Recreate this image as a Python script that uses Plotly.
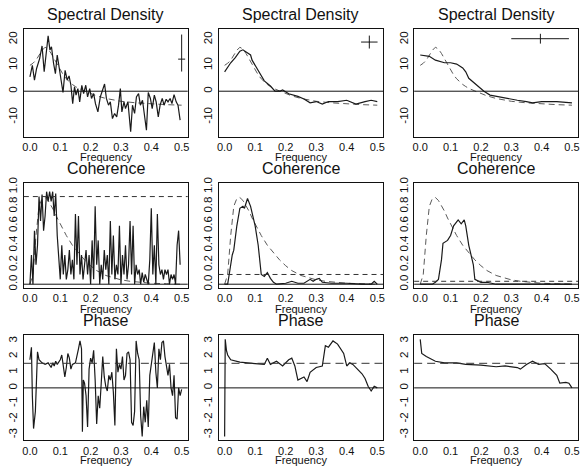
import math
import plotly.graph_objects as go

# ---------------- data ----------------
freq_ticks = [0.0, 0.1, 0.2, 0.3, 0.4, 0.5]
freq_tick_text = ["0.0", "0.1", "0.2", "0.3", "0.4", "0.5"]
sd_ticks = [-10, 0, 10, 20]
coh_ticks = [0.0, 0.2, 0.4, 0.6, 0.8, 1.0]
coh_tick_text = ["0.0", "0.2", "0.4", "0.6", "0.8", "1.0"]
ph_ticks = [-3, -2, -1, 0, 1, 2, 3]

# theoretical spectral density (dashed, same in all three panels)
sd_true_f = [0, 0.01, 0.02, 0.03, 0.04, 0.05, 0.06, 0.07, 0.08, 0.09, 0.10, 0.11, 0.12,
             0.13, 0.14, 0.15, 0.16, 0.18, 0.20, 0.22, 0.25, 0.28, 0.30, 0.35, 0.40, 0.45, 0.50]
sd_true = [10, 10.8, 12, 13.8, 15.8, 17, 16.3, 14.6, 12.4, 10.2, 8, 6.3, 4.8,
           3.6, 2.6, 1.8, 1.1, 0.1, -0.9, -1.8, -2.8, -3.5, -3.9, -4.5, -4.9, -5.2, -5.4]

# raw periodogram (panel 1)
sd_raw_f = [0.000, 0.008, 0.015, 0.022, 0.032, 0.040, 0.047, 0.054, 0.060, 0.066, 0.071,
            0.078, 0.084, 0.090, 0.096, 0.101, 0.109, 0.116, 0.123, 0.129, 0.135, 0.141,
            0.147, 0.152, 0.158, 0.164, 0.171, 0.177, 0.184, 0.190, 0.197, 0.203, 0.210,
            0.216, 0.224, 0.232, 0.239, 0.246, 0.252, 0.259, 0.265, 0.272, 0.279, 0.286,
            0.292, 0.298, 0.303, 0.310, 0.315, 0.323, 0.332, 0.338, 0.345, 0.351, 0.358,
            0.364, 0.371, 0.377, 0.384, 0.390, 0.397, 0.403, 0.410, 0.416, 0.423, 0.429,
            0.436, 0.442, 0.449, 0.455, 0.462, 0.468, 0.475, 0.482, 0.488, 0.495]
sd_raw = [5.5, 10, 4.3, 8.8, 12.6, 17.5, 7.5, 14, 21.4, 15.9, 17.2,
          10.7, 6.8, 14, 9.4, 5.5, -0.5, 8.1, 4.3, 5.9, 2.3, -4.8,
          1.7, -1.5, 1, -4.1, 2.3, -0.9, 2.3, -2.2, 1, -2.8, -0.9,
          -4.8, -8, -2.2, 0.4, 2.8, -2.8, -5.4, -4.1, -10.6, -8.6, -9.9,
          -5.4, 1, -8, -4.1, -6.7, -4.1, -15.7, -5.4, -8.6, -2.2, -0.9,
          -5.4, -3.5, -8, -15.1, -0.5, -2.8, -6.7, -1.5, -4.1, -9.9, -5.4,
          -2.8, -5.4, -3.1, -4.1, -2.8, -4.8, -1.3, -4.1, -5.4, -11.2]

# smoothed spectrum (panel 2)
sd_smooth_f = [0, 0.01, 0.02, 0.035, 0.045, 0.05, 0.06, 0.07, 0.075, 0.085, 0.09, 0.10,
               0.115, 0.13, 0.15, 0.165, 0.18, 0.19, 0.21, 0.24, 0.26, 0.28, 0.30, 0.32,
               0.34, 0.37, 0.40, 0.43, 0.46, 0.48, 0.50]
sd_smooth = [7.5, 9.5, 11, 13, 15, 15.5, 16, 15.2, 15, 14, 12, 10,
             7, 4, 2, 0, 0, 0.5, -1, -2, -3, -4.5, -4, -5,
             -4, -4, -3.5, -5, -4, -3.5, -4]

# heavily smoothed spectrum (panel 3)
sd_wide_f = [0, 0.03, 0.05, 0.08, 0.10, 0.12, 0.14, 0.15, 0.16, 0.18, 0.20, 0.21,
             0.23, 0.27, 0.32, 0.35, 0.37, 0.40, 0.45, 0.50]
sd_wide = [14, 13.5, 12, 11, 11, 10.5, 9, 7.5, 5, 3, 1, 0,
           -1.5, -2.5, -3.5, -4, -4.5, -4, -4, -4.5]

# bandwidth indicators
bw1 = dict(f=0.5, v=12.4, lo=4.8, hi=9.5)
bw2 = dict(f=0.474, v=19.0, dx=0.027, dy=2.5)
bw3 = dict(f=0.396, v=20.3, left=0.096, right=0.094)

# theoretical coherence (dashed, same in all three panels)
coh_true_f = [0, 0.01, 0.02, 0.03, 0.04, 0.05, 0.06, 0.07, 0.08, 0.09, 0.10, 0.12, 0.14,
              0.16, 0.18, 0.20, 0.22, 0.25, 0.28, 0.30, 0.33, 0.36, 0.40, 0.45, 0.50]
coh_true = [0, 0.1, 0.5, 0.8, 0.88, 0.89, 0.86, 0.81, 0.75, 0.68, 0.62, 0.5, 0.4,
            0.32, 0.25, 0.19, 0.14, 0.09, 0.06, 0.045, 0.03, 0.02, 0.01, 0.005, 0.0]
coh_threshold = [0.9, 0.1, 0.03]

coh_raw_f = [0.000, 0.005, 0.010, 0.015, 0.020, 0.025, 0.030, 0.035, 0.040, 0.045, 0.050,
             0.055, 0.060, 0.065, 0.070, 0.075, 0.080, 0.085, 0.090, 0.095, 0.100, 0.105,
             0.110, 0.115, 0.120, 0.125, 0.130, 0.135, 0.140, 0.145, 0.150, 0.155, 0.160,
             0.165, 0.170, 0.175, 0.180, 0.185, 0.190, 0.195, 0.200, 0.205, 0.210, 0.215,
             0.220, 0.225, 0.230, 0.235, 0.240, 0.245, 0.250, 0.255, 0.260, 0.265, 0.270,
             0.275, 0.280, 0.285, 0.290, 0.295, 0.300, 0.305, 0.310, 0.315, 0.320, 0.325,
             0.330, 0.335, 0.340, 0.345, 0.350, 0.355, 0.360, 0.365, 0.370, 0.375, 0.380,
             0.385, 0.390, 0.395, 0.400, 0.405, 0.410, 0.415, 0.420, 0.425, 0.430, 0.435,
             0.440, 0.445, 0.450, 0.455, 0.460, 0.465, 0.470, 0.475, 0.480, 0.485, 0.490,
             0.495]
coh_raw = [0.0, 0.3, 0.0, 0.55, 0.2, 0.4, 0.9, 0.65, 0.92, 0.55, 0.7,
           0.95, 0.85, 0.95, 0.85, 0.95, 0.7, 0.93, 0.5, 0.25, 0.05, 0.4,
           0.1, 0.3, 0.05, 0.15, 0.35, 0.1, 0.25, 0.05, 0.72, 0.2, 0.7,
           0.1, 0.3, 0.05, 0.2, 0.35, 0.1, 0.3, 0.0, 0.45, 0.05, 0.8,
           0.2, 0.45, 0.0, 0.2, 0.05, 0.35, 0.15, 0.3, 0.0, 0.65, 0.1,
           0.5, 0.05, 0.2, 0.1, 0.6, 0.0, 0.3, 0.1, 0.4, 0.05, 0.2,
           0.65, 0.1, 0.6, 0.0, 0.2, 0.1, 0.15, 0.0, 0.12, 0.02, 0.1,
           0.05, 0.0, 0.25, 0.78, 0.1, 0.4, 0.0, 0.72, 0.2, 0.1, 0.15,
           0.05, 0.15, 0.1, 0.15, 0.0, 0.1, 0.05, 0.1, 0.0, 0.4, 0.55,
           0.2]

coh_smooth_f = [0, 0.01, 0.015, 0.025, 0.03, 0.04, 0.05, 0.06, 0.065, 0.075, 0.085, 0.10,
                0.11, 0.12, 0.13, 0.14, 0.15, 0.16, 0.17, 0.20, 0.22, 0.24, 0.26, 0.28,
                0.29, 0.30, 0.31, 0.32, 0.35, 0.40, 0.45, 0.48, 0.49, 0.50]
coh_smooth = [0, 0.0, 0.1, 0.3, 0.35, 0.6, 0.78, 0.8, 0.78, 0.88, 0.8, 0.6,
              0.4, 0.1, 0.08, 0.12, 0.06, 0.02, 0.0, 0.01, 0.03, 0.01, 0.01, 0.05,
              0.03, 0.05, 0.06, 0.02, 0.01, 0.01, 0.0, 0.0, 0.03, 0.0]

coh_wide_f = [0, 0.04, 0.05, 0.06, 0.07, 0.075, 0.09, 0.10, 0.11, 0.125, 0.135, 0.145,
              0.15, 0.16, 0.175, 0.18, 0.20, 0.22, 0.25, 0.30, 0.40, 0.50]
coh_wide = [0, 0, 0.02, 0.05, 0.25, 0.42, 0.45, 0.5, 0.6, 0.66, 0.62, 0.66,
            0.6, 0.4, 0.2, 0.05, 0.02, 0.02, 0.0, 0.0, 0.0, 0.0]

# phase
phase_ref = math.pi / 2
ph_raw_f = [0.000, 0.005, 0.008, 0.012, 0.018, 0.022, 0.025, 0.030, 0.040, 0.050, 0.060,
            0.070, 0.075, 0.080, 0.085, 0.090, 0.100, 0.105, 0.110, 0.115, 0.120, 0.125,
            0.130, 0.135, 0.140, 0.150, 0.160, 0.165, 0.170, 0.173, 0.176, 0.180, 0.185,
            0.190, 0.195, 0.200, 0.205, 0.210, 0.215, 0.220, 0.225, 0.230, 0.235, 0.240,
            0.245, 0.250, 0.255, 0.260, 0.265, 0.270, 0.275, 0.280, 0.285, 0.290, 0.295,
            0.300, 0.305, 0.310, 0.315, 0.320, 0.325, 0.330, 0.335, 0.340, 0.345, 0.350,
            0.355, 0.360, 0.365, 0.370, 0.375, 0.380, 0.385, 0.390, 0.395, 0.400, 0.405,
            0.410, 0.415, 0.420, 0.425, 0.430, 0.435, 0.440, 0.445, 0.450, 0.455, 0.460,
            0.465, 0.470, 0.475, 0.480, 0.485, 0.490, 0.495, 0.500]
ph_raw = [1.8, 2.6, -0.5, -2.6, -1.5, 0.5, 2.3, 1.8, 1.6, 1.5, 1.6,
          1.3, 1.6, 1.4, 1.7, 1.5, 1.8, 2.1, 1.5, 0.7, 1.3, 2.2,
          1.9, 1.2, 1.5, 1.6, 2.5, 3.0, 2.5, -2.8, 0.5, 0.3, -0.5,
          -2.5, 1.2, 1.9, 1.6, 2.4, 0.5, -2.3, -0.5, -1.3, 0.3, 2.0,
          0.7, 0.1, -0.2, 0.8, 0.5, 1.0, -0.3, -2.4, 2.5, 1.0, 1.5,
          1.2, 2.0, 0.5, 0.8, 2.2, 2.3, 1.8, -2.2, -2.4, -1.5, 3.0,
          2.2, 1.8, -1.8, -3.1, -1.2, -2.2, -0.8, -2.5, 0.8, 1.6, 2.2,
          2.9, 1.0, 0.0, 2.5, 1.8, 2.9, 3.0, 2.0, 1.2, 0.8, 1.5,
          0.0, -0.5, 0.8, -1.9, -2.0, 0.0, -0.5, -0.1]

ph_smooth_f = [0.0, 0.002, 0.006, 0.01, 0.02, 0.05, 0.10, 0.13, 0.14, 0.15, 0.17, 0.19,
               0.21, 0.22, 0.23, 0.24, 0.26, 0.27, 0.28, 0.30, 0.32, 0.33, 0.34, 0.355,
               0.37, 0.38, 0.39, 0.40, 0.41, 0.42, 0.44, 0.45, 0.46, 0.47, 0.48, 0.49, 0.50]
ph_smooth = [-3.1, 3.1, 2.4, 2.1, 1.8, 1.65, 1.55, 1.5, 1.9, 1.5, 1.7, 1.4,
             1.8, 1.9, 1.4, 0.5, 0.7, 0.4, 1.0, 1.3, 1.4, 2.7, 2.6, 3.0,
             2.8, 2.5, 2.2, 1.4, 1.6, 1.5, 1.1, 0.9, 0.6, 0.1, -0.2, 0.1, 0.0]

ph_wide_f = [0.0, 0.005, 0.02, 0.05, 0.08, 0.12, 0.15, 0.20, 0.25, 0.28, 0.32, 0.33,
             0.35, 0.37, 0.39, 0.41, 0.43, 0.45, 0.46, 0.48, 0.49, 0.50]
ph_wide = [3.1, 2.2, 2.0, 1.7, 1.6, 1.6, 1.5, 1.45, 1.35, 1.4, 1.3, 1.2,
           1.5, 1.7, 1.5, 1.55, 1.2, 0.8, 0.3, 0.35, 0.3, 0.0]

# ---------------- figure ----------------
W, H = 584, 470
col_px = [(22, 187), (218, 384), (415, 580)]
row_px = [(23, 133), (180, 287), (335, 442)]
row_titles = ["Spectral Density", "Coherence", "Phase"]
title_y_px = [9, 165, 320]
xlab_y_px = [154, 308, 462]

SOLID = dict(color="#1a1a1a", width=1.2)
DASHED = dict(color="#5a5a5a", width=1.0, dash="6px,4px")
FONT = "Liberation Sans, Arial, Helvetica, sans-serif"
TICK_SIZE = 11.5
XTICK_SIZE = 11

fig = go.Figure()


def ax_id(r, c):
    return r * 3 + c + 1


def add(r, c, x, y, line, **kw):
    i = ax_id(r, c)
    fig.add_trace(go.Scatter(x=x, y=y, mode="lines", line=line,
                             xaxis="x" if i == 1 else f"x{i}",
                             yaxis="y" if i == 1 else f"y{i}",
                             showlegend=False, hoverinfo="skip", **kw))


# spectral density row
add(0, 0, sd_true_f, sd_true, DASHED)
add(0, 0, sd_raw_f, sd_raw, SOLID)
add(0, 1, sd_true_f, sd_true, DASHED)
add(0, 1, sd_smooth_f, sd_smooth, SOLID)
add(0, 2, sd_true_f, sd_true, DASHED)
add(0, 2, sd_wide_f, sd_wide, SOLID)

# bandwidth markers
fig.add_trace(go.Scatter(x=[bw1["f"]], y=[bw1["v"]], mode="markers",
                         marker=dict(symbol="line-ew", size=5, line=dict(color="#1a1a1a", width=1)),
                         error_y=dict(type="data", symmetric=False, array=[bw1["hi"]],
                                      arrayminus=[bw1["lo"]], width=0, color="#1a1a1a", thickness=1),
                         xaxis="x", yaxis="y", showlegend=False, hoverinfo="skip"))
fig.add_trace(go.Scatter(x=[bw2["f"]], y=[bw2["v"]], mode="markers",
                         marker=dict(size=1, color="#1a1a1a"),
                         error_y=dict(type="data", array=[bw2["dy"]], width=0, color="#1a1a1a", thickness=1),
                         error_x=dict(type="data", array=[bw2["dx"]], width=0, color="#1a1a1a", thickness=1),
                         xaxis="x2", yaxis="y2", showlegend=False, hoverinfo="skip"))
fig.add_trace(go.Scatter(x=[bw3["f"]], y=[bw3["v"]], mode="markers",
                         marker=dict(symbol="line-ns", size=7, line=dict(color="#1a1a1a", width=1)),
                         error_x=dict(type="data", symmetric=False, array=[bw3["right"]],
                                      arrayminus=[bw3["left"]], width=0, color="#1a1a1a", thickness=1),
                         xaxis="x3", yaxis="y3", showlegend=False, hoverinfo="skip"))

# coherence row
add(1, 0, coh_true_f, coh_true, DASHED)
add(1, 0, coh_raw_f, coh_raw, SOLID)
add(1, 1, coh_true_f, coh_true, DASHED)
add(1, 1, coh_smooth_f, coh_smooth, SOLID)
add(1, 2, coh_true_f, coh_true, DASHED)
add(1, 2, coh_wide_f, coh_wide, SOLID)

# phase row
add(2, 0, ph_raw_f, ph_raw, SOLID)
add(2, 1, ph_smooth_f, ph_smooth, SOLID)
add(2, 2, ph_wide_f, ph_wide, SOLID)

layout = dict(width=W, height=H, margin=dict(l=0, r=0, t=0, b=0),
              paper_bgcolor="white", plot_bgcolor="white",
              font=dict(family=FONT, color="#111", size=12), showlegend=False)

yranges = [[-17.6, 24.2], [-0.04, 1.04], [-3.36, 3.36]]
yticks = [(sd_ticks, [str(v) for v in sd_ticks]), (coh_ticks, coh_tick_text),
          (ph_ticks, [str(v) for v in ph_ticks])]

shapes = []
annotations = []
for r in range(3):
    y0, y1 = row_px[r]
    for c in range(3):
        i = ax_id(r, c)
        x0, x1 = col_px[c]
        xk = "xaxis" if i == 1 else f"xaxis{i}"
        yk = "yaxis" if i == 1 else f"yaxis{i}"
        xr = "x" if i == 1 else f"x{i}"
        yr = "y" if i == 1 else f"y{i}"
        common = dict(showline=True, mirror=True, linecolor="#111", linewidth=1,
                      showgrid=False, zeroline=False, ticks="", fixedrange=True)
        layout[xk] = dict(domain=[x0 / W, x1 / W], range=[-0.02, 0.52], anchor=yr,
                          tickvals=freq_ticks, ticktext=freq_tick_text,
                          ticklabelstandoff=0,
                          tickfont=dict(size=XTICK_SIZE, family=FONT, color="#111"),
                          **common)
        layout[yk] = dict(domain=[1 - y1 / H, 1 - y0 / H], range=yranges[r], anchor=xr,
                          tickvals=yticks[r][0], ticktext=yticks[r][1], tickangle=-90,
                          ticklabelstandoff=1,
                          tickfont=dict(size=TICK_SIZE, family=FONT, color="#111"),
                          **common)
        shapes.append(dict(type="line", xref=f"{xr} domain", yref=yr, x0=0, x1=1, y0=0, y1=0,
                           line=dict(color="#111", width=1)))
        if r == 1:
            shapes.append(dict(type="line", xref=f"{xr} domain", yref=yr, x0=0, x1=1,
                               y0=coh_threshold[c], y1=coh_threshold[c],
                               line=dict(color="#333", width=1, dash="5px,4px")))
        if r == 2:
            shapes.append(dict(type="line", xref=f"{xr} domain", yref=yr, x0=0, x1=1,
                               y0=phase_ref, y1=phase_ref,
                               line=dict(color="#333", width=1, dash="8px,5px")))
        xc = (x0 + x1) / 2 / W
        annotations.append(dict(text=row_titles[r], x=xc, y=1 - title_y_px[r] / H,
                                xref="paper", yref="paper", showarrow=False,
                                xanchor="center", yanchor="middle",
                                font=dict(size=16, family=FONT, color="#111")))
        annotations.append(dict(text="Frequency", x=xc, y=1 - xlab_y_px[r] / H,
                                xref="paper", yref="paper", showarrow=False,
                                xanchor="center", yanchor="middle",
                                font=dict(size=11, family=FONT, color="#111")))

layout["shapes"] = shapes
layout["annotations"] = annotations
fig.update_layout(**layout)
fig.write_html(
    "out.html",
    config={"displayModeBar": False, "staticPlot": True},
    post_script=("document.body.style.margin='0';document.body.style.overflow='hidden';"
                 "var gd=document.getElementById('{plot_id}');"
                 "gd.style.position='fixed';gd.style.top='0px';gd.style.left='0px';"),
)
